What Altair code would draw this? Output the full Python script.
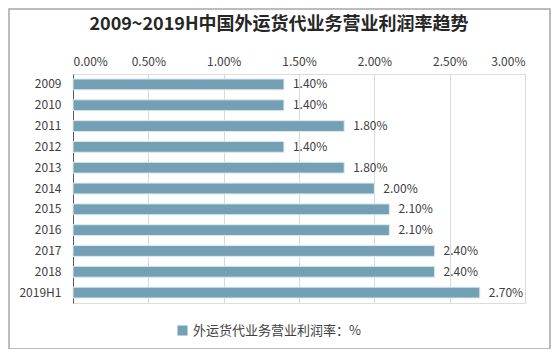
import altair as alt
import pandas as pd

years = ["2009", "2010", "2011", "2012", "2013", "2014", "2015", "2016", "2017", "2018", "2019H1"]
rates = [1.40, 1.40, 1.80, 1.40, 1.80, 2.00, 2.10, 2.10, 2.40, 2.40, 2.70]
series_name = "外运货代业务营业利润率：%"
title_text = "2009~2019H中国外运货代业务营业利润率趋势"

df = pd.DataFrame({"year": years, "rate": [r / 100 for r in rates], "series": series_name})
df["label"] = [f"{r:.2f}%" for r in rates]

FONT = "Noto Sans CJK SC"
BAR = "#73A0B4"

x_enc = alt.X("rate:Q", scale=alt.Scale(domain=[0, 0.03], nice=False),
              axis=alt.Axis(orient="top", format=".2%", values=[0, 0.005, 0.01, 0.015, 0.02, 0.025, 0.03],
                            domain=False, ticks=False, grid=True, gridColor="#D9D9D9",
                            labelFont=FONT, labelFontSize=12, labelColor="#404040", labelPadding=6,
                            title=None))
y_enc = alt.Y("year:N", sort=years,
              scale=alt.Scale(paddingInner=0.48, paddingOuter=0.24),
              axis=alt.Axis(domain=True, domainColor="#595959", ticks=False, grid=False,
                            labelFont=FONT, labelFontSize=12, labelColor="#404040", labelPadding=12,
                            title=None))

bars = alt.Chart(df).mark_bar(stroke="#DCE8EE", strokeWidth=1).encode(
    x=x_enc, y=y_enc,
    color=alt.Color("series:N", scale=alt.Scale(range=[BAR]),
                    legend=alt.Legend(orient="none", legendX=103, legendY=250, title=None,
                                      symbolType="square", symbolSize=100, symbolStrokeWidth=0,
                                      labelFont=FONT, labelFontSize=13, labelColor="#404040",
                                      labelOffset=4, labelLimit=0))
)

labels = alt.Chart(df).mark_text(align="left", baseline="middle", dx=9, font=FONT,
                                  fontSize=12, color="#404040").encode(
    x="rate:Q", y=alt.Y("year:N", sort=years), text="label:N")

title = alt.Chart(pd.DataFrame({"t": [title_text]})).mark_text(
    font=FONT, fontSize=18, fontWeight="bold", color="#262626", align="center", baseline="middle"
).encode(x=alt.value(206), y=alt.value(-49), text="t:N")

border = alt.Chart(pd.DataFrame({"a": [0]})).mark_rect(
    fill=None, stroke="#A6A6A6", strokeWidth=1.5).encode(
    x=alt.value(-64), x2=alt.value(477), y=alt.value(-65), y2=alt.value(275))

chart = alt.layer(bars, labels, title, border).properties(
    width=452, height=229,
    autosize=alt.AutoSizeParams(type="none"),
    padding={"left": 65, "top": 66, "right": 26, "bottom": 46},
).configure_view(stroke=None).configure(background="white")

chart.save("out.html", embed_options={"renderer": "svg", "actions": False})
